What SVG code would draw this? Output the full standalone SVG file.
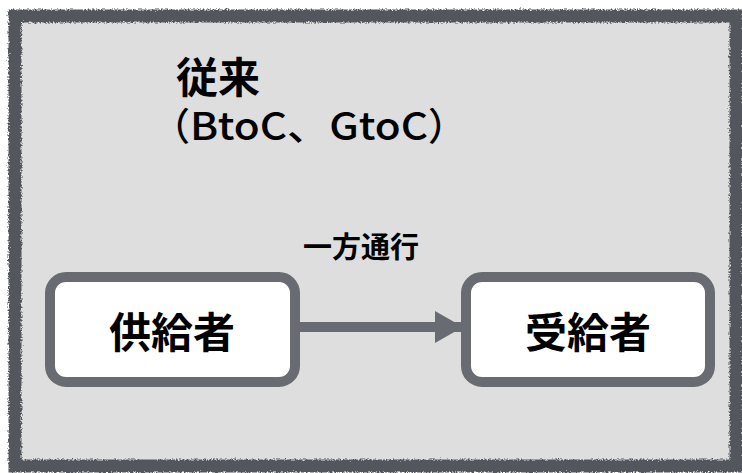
<svg xmlns="http://www.w3.org/2000/svg" width="742" height="473" viewBox="0 0 742 473">
<defs>
<style>
.jp{font-family:"Noto Sans CJK JP","Noto Sans CJK SC",sans-serif;fill:#000;}
.b{font-weight:bold;}
.node{fill:#fff;stroke:#686c72;stroke-width:10;}
.conn{stroke:#686c72;stroke-width:10;fill:none;}
</style>
<filter id="rough" x="-5%" y="-5%" width="110%" height="110%">
<feTurbulence type="fractalNoise" baseFrequency="0.6" numOctaves="2" seed="3" result="n"/>
<feDisplacementMap in="SourceGraphic" in2="n" scale="5" xChannelSelector="R" yChannelSelector="G"/>
</filter>
<marker id="arr" markerWidth="30" markerHeight="32" refX="28" refY="16" orient="auto" markerUnits="userSpaceOnUse">
<path d="M0,0 L28,16 L0,32 Z" fill="#686c72"/>
</marker>
</defs>
<g id="frame">
<rect x="15" y="16" width="721" height="450" fill="#dedede"/>
<rect x="15" y="16" width="721" height="450" fill="none" stroke="#53575d" stroke-width="13" filter="url(#rough)"/>
</g>
<g id="title">
<text class="jp b" x="176" y="93" font-size="42">従来</text>
<text class="jp" y="140" font-size="38" font-weight="500"><tspan x="152">（</tspan><tspan x="190" textLength="238" lengthAdjust="spacingAndGlyphs">BtoC、GtoC</tspan><tspan x="428">）</tspan></text>
</g>
<g id="connectors">
<line class="conn" x1="300" y1="327" x2="463" y2="327" marker-end="url(#arr)"/>
<text class="jp b" x="361" y="258" font-size="29" text-anchor="middle">一方通行</text>
</g>
<g id="supplier">
<rect class="node" x="50" y="277" width="245" height="105" rx="16"/>
<text class="jp b" x="172" y="348" font-size="42" text-anchor="middle">供給者</text>
</g>
<g id="receiver">
<rect class="node" x="466" y="277" width="244" height="105" rx="16"/>
<text class="jp b" x="588" y="348" font-size="42" text-anchor="middle">受給者</text>
</g>
</svg>
